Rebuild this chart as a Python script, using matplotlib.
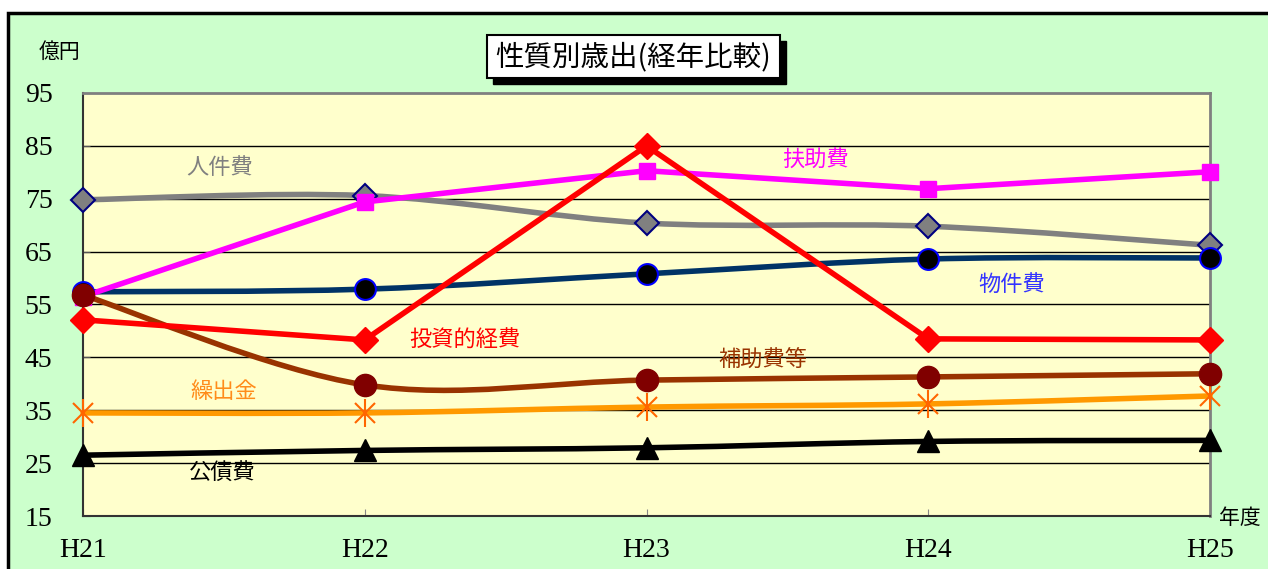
import numpy as np
import matplotlib.pyplot as plt
from matplotlib.path import Path
from matplotlib.patches import PathPatch, Rectangle

plt.rcParams['font.family'] = ['Liberation Serif', 'Noto Sans CJK JP']

# data (億円)
years = ['H21', 'H22', 'H23', 'H24', 'H25']
jinkenhi = [74.8, 75.6, 70.4, 69.8, 66.2]      # 人件費
fujohi = [56.5, 74.4, 80.3, 76.9, 80.1]        # 扶助費
bukkenhi = [57.4, 57.9, 60.8, 63.6, 63.8]      # 物件費
toushi = [52.1, 48.3, 85.0, 48.5, 48.3]        # 投資的経費
hojohi = [56.8, 39.8, 40.7, 41.3, 41.9]        # 補助費等
kuridashi = [34.5, 34.5, 35.6, 36.2, 37.7]     # 繰出金
kousaihi = [26.5, 27.4, 27.9, 29.1, 29.3]      # 公債費

W, H = 1268, 569


def px(x, y):
    return x / W, 1 - y / H


def smooth_line(ax, x, y, color, lw):
    # catmull-rom style smoothing, like excel's smoothed line
    pts = np.column_stack([x, y]).astype(float)
    n = len(pts)
    verts = [pts[0]]
    codes = [Path.MOVETO]
    for i in range(n - 1):
        p0 = pts[max(i - 1, 0)]
        p1 = pts[i]
        p2 = pts[i + 1]
        p3 = pts[min(i + 2, n - 1)]
        c1 = p1 + (p2 - p0) / 6
        c2 = p2 - (p3 - p1) / 6
        verts += [c1, c2, p2]
        codes += [Path.CURVE4] * 3
    ax.add_patch(PathPatch(Path(verts, codes), fill=False, edgecolor=color, lw=lw,
                           capstyle='round', joinstyle='round', zorder=3, clip_on=False))


fig = plt.figure(figsize=(12.68, 5.69), dpi=100, facecolor='white')

# outer green panel
x0, y0 = px(8, 13)
fig.add_artist(Rectangle((x0, -0.05), 1.1, y0 + 0.05, transform=fig.transFigure,
                         facecolor='#CCFFCC', edgecolor='black', lw=2.5, zorder=-10))

l, t = px(83, 93)
r, b = px(1210, 516)
ax = fig.add_axes([l, b, r - l, t - b])
ax.set_facecolor('#FFFFCC')

x = np.arange(len(years))
LW = 4

smooth_line(ax, x, jinkenhi, '#808080', LW)
ax.plot(x, jinkenhi, ls='none', marker='D', ms=12, mfc='#808080', mec='#000080', mew=1.5,
        zorder=4, clip_on=False)

ax.plot(x, fujohi, color='#FF00FF', lw=LW, marker='s', ms=11, zorder=4, clip_on=False)

smooth_line(ax, x, bukkenhi, '#003366', LW)
ax.plot(x, bukkenhi, ls='none', marker='o', ms=15, mfc='black', mec='#0000FF', mew=1.5,
        zorder=4, clip_on=False)

ax.plot(x, toushi, color='#FF0000', lw=LW, marker='D', ms=13, zorder=4, clip_on=False)

smooth_line(ax, x, hojohi, '#993300', LW)
ax.plot(x, hojohi, ls='none', marker='o', ms=16, mfc='#800000', mec='#800000',
        zorder=5, clip_on=False)

smooth_line(ax, x, kuridashi, '#FF9900', LW)
ax.plot(x, kuridashi, ls='none', marker='x', ms=15, mec='#FF6600', mew=1.5,
        zorder=4, clip_on=False)
ax.plot(x, kuridashi, ls='none', marker='|', ms=20, mec='#FF6600', mew=1.5,
        zorder=4, clip_on=False)

smooth_line(ax, x, kousaihi, 'black', LW)
ax.plot(x, kousaihi, ls='none', marker='^', ms=16, color='black', zorder=4, clip_on=False)

ax.set_xlim(0, 4)
ax.set_ylim(15, 95)
ax.set_yticks(range(15, 96, 10))
ax.set_xticks(x)
ax.set_xticklabels(years)
ax.tick_params(axis='y', direction='in', length=5, color='#555555', labelsize=20, pad=22)
ax.tick_params(axis='x', direction='in', length=5, color='#888888', labelsize=20, pad=16)
for v in range(25, 95, 10):
    ax.axhline(v, color='black', lw=1, zorder=1)
for s in ['top', 'right']:
    ax.spines[s].set_color('#808080')
    ax.spines[s].set_linewidth(2)
for s in ['left', 'bottom']:
    ax.spines[s].set_color('#333333')
    ax.spines[s].set_linewidth(1.5)

# series labels
cjk = ['Noto Sans CJK JP']
labels = [('人件費', 220, 168, '#808080'), ('扶助費', 815, 160, '#FF00FF'),
          ('物件費', 1012, 284, '#3333FF'), ('投資的経費', 465, 340, '#FF0000'),
          ('補助費等', 763, 360, '#993300'), ('繰出金', 224, 392, '#FF8C1A'),
          ('公債費', 222, 473, 'black')]
for txt, lx, ly, c in labels:
    fig.text(*px(lx, ly), txt, color=c, fontsize=16, family=cjk, ha='center', va='center')

fig.text(*px(60, 52), '億円', fontsize=15, family=cjk, ha='center', va='center')
fig.text(*px(1240, 518), '年度', fontsize=15, family=cjk, ha='center', va='center')

# title box with shadow
bx, by = px(487, 78)
bw = 293 / W
bh = 43 / H
sx, sy = px(493, 84)
fig.add_artist(Rectangle((sx, sy), bw, bh, transform=fig.transFigure,
                         facecolor='black', edgecolor='black', zorder=5))
fig.add_artist(Rectangle((bx, by), bw, bh, transform=fig.transFigure,
                         facecolor='white', edgecolor='black', lw=1.5, zorder=6))
fig.text(*px(633, 57), '性質別歳出(経年比較)', fontsize=20.5, family=cjk,
         ha='center', va='center', zorder=7)

fig.savefig('out.png', dpi=100)
